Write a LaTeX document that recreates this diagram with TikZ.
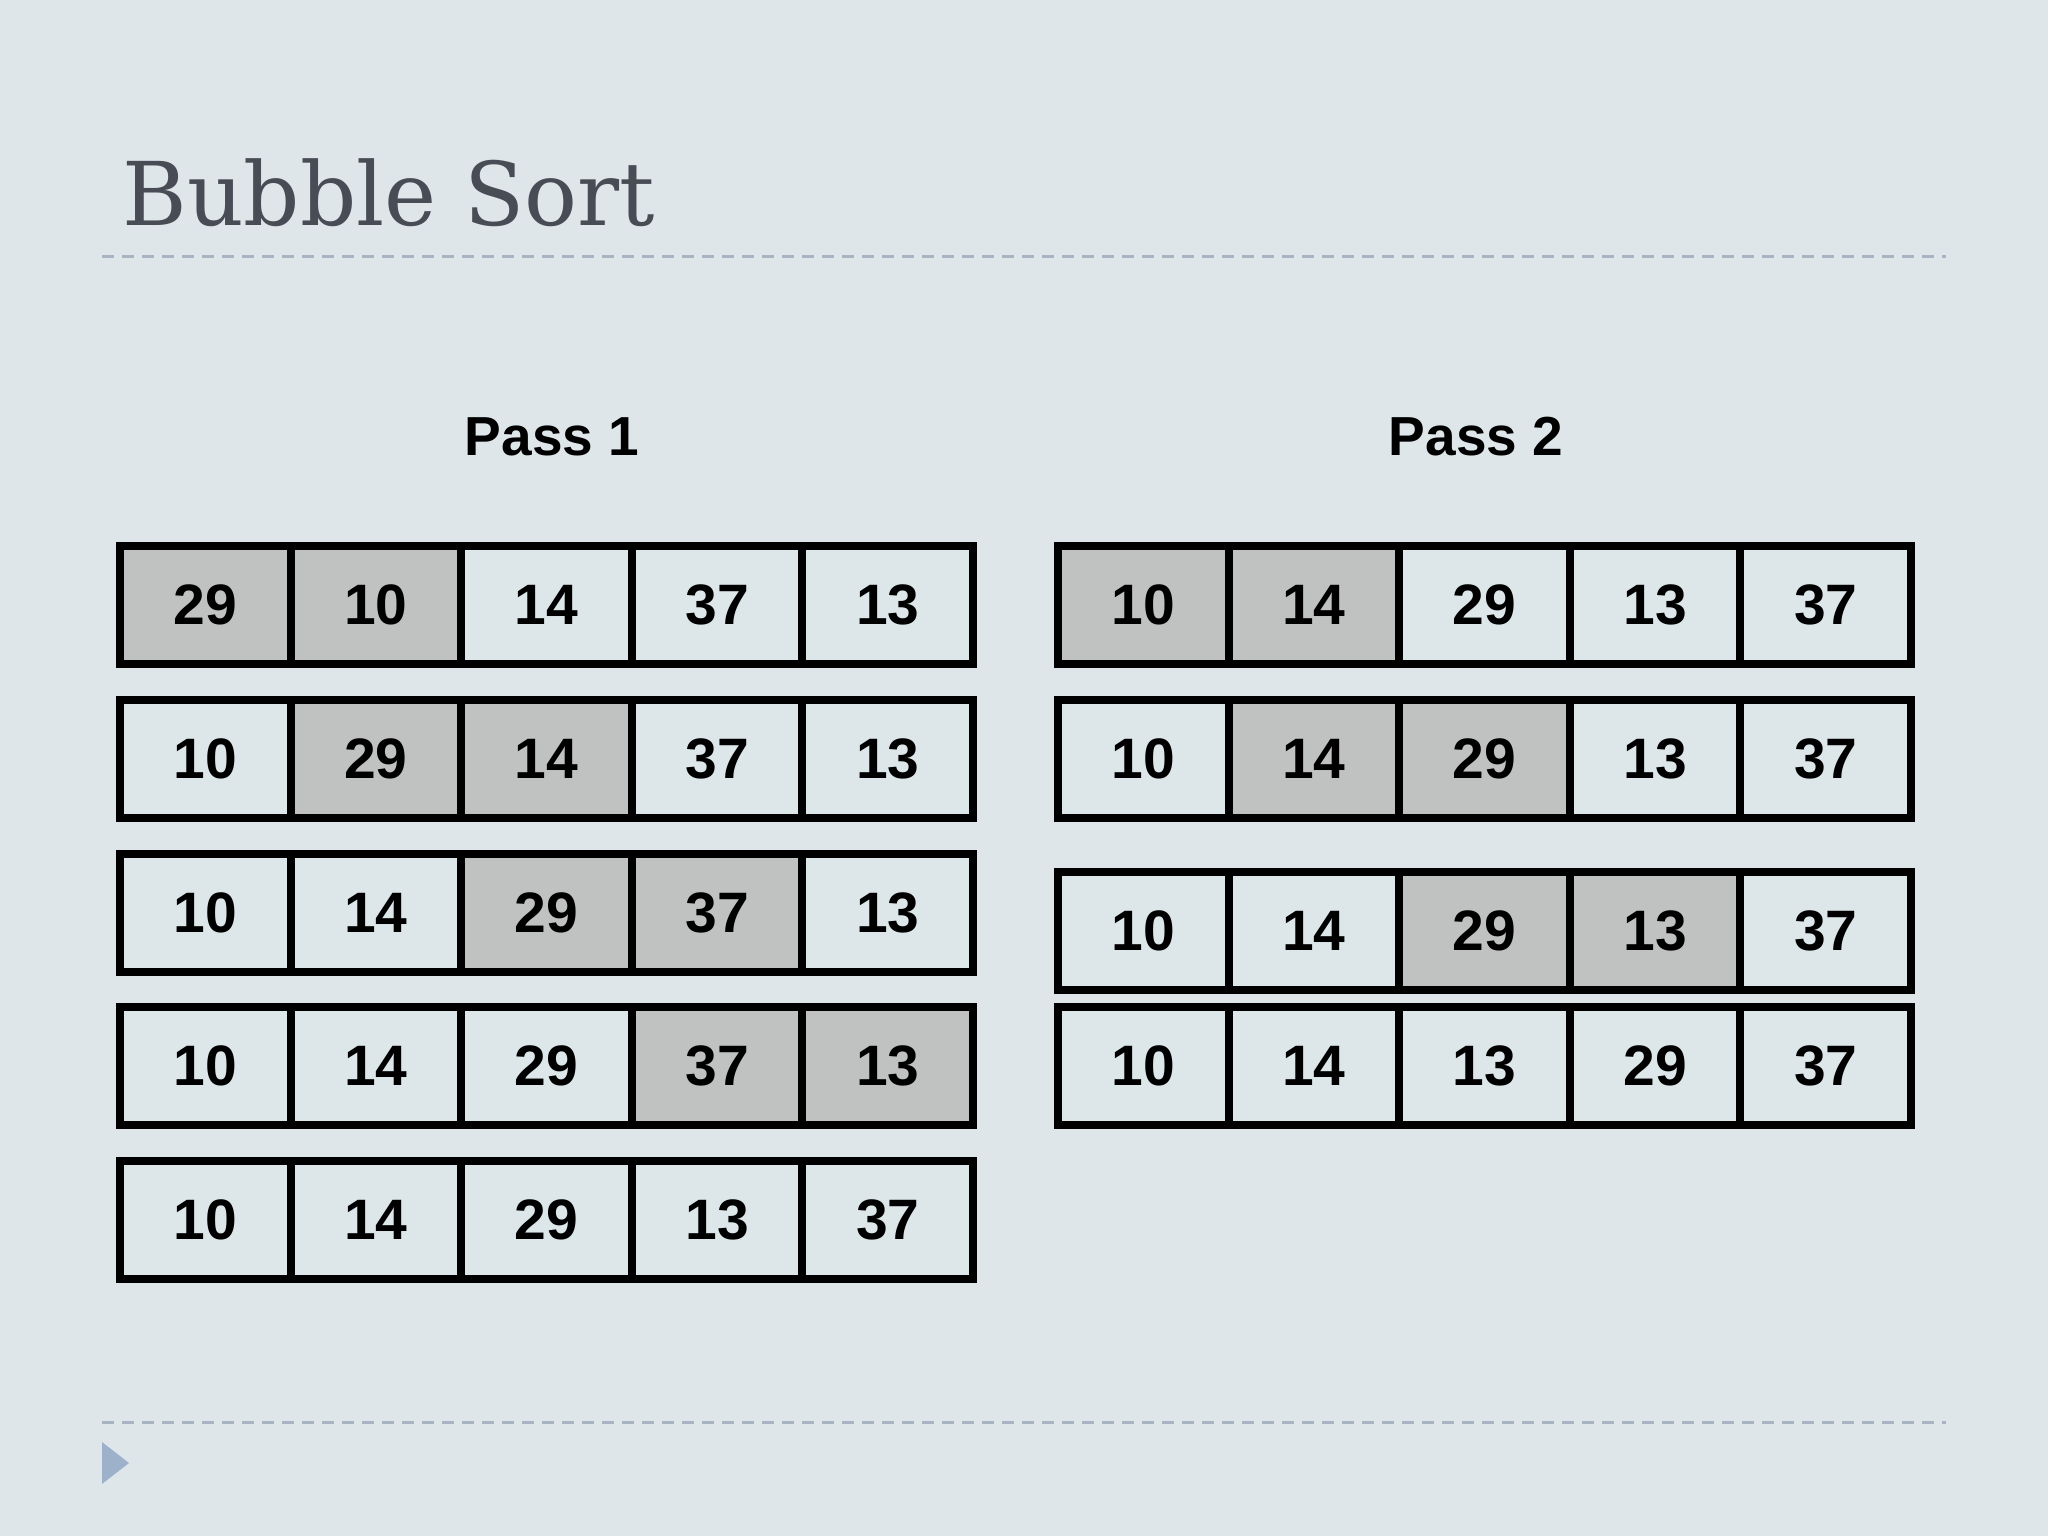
\documentclass[tikz,border=0pt]{standalone}
\usepackage{fontspec}
\newfontfamily\cellfont{Liberation Sans}
\newfontfamily\titlefont{DejaVu Serif}
\definecolor{bgc}{HTML}{DFE6EA}
\definecolor{cellc}{HTML}{DDE7E9}
\definecolor{hic}{HTML}{C0C1C1}
\definecolor{titlec}{HTML}{474C55}
\definecolor{rulec}{HTML}{A8B4C1}
\definecolor{tric}{HTML}{9DB1CA}
\tikzset{
  cell/.style={draw=black, line width=4pt, fill=cellc, minimum width=85.3pt, minimum height=59pt,
    inner sep=0pt, font=\cellfont\bfseries\fontsize{28.5}{34}\selectfont},
  hi/.style={fill=hic},
  rule/.style={draw=rulec, line width=1.5pt, dash pattern=on 6pt off 4pt},
  passlabel/.style={font=\cellfont\bfseries\fontsize{27.5}{32}\selectfont, inner sep=0pt, anchor=base}
}
\begin{document}
\begin{tikzpicture}[x=0.5pt,y=-0.5pt]
\fill[bgc] (0,0) rectangle (2048,1536);
\useasboundingbox (0,0) rectangle (2048,1536);
% title
\node[anchor=base west, inner sep=0pt, text=titlec, font=\titlefont\fontsize{44}{52}\selectfont] (title) at (122,225) {Bubble Sort};
\coordinate (r1a) at (102,256); \coordinate (r1b) at (1946,256);
\draw[rule] (r1a) -- (r1b);
\coordinate (r2a) at (102,1422); \coordinate (r2b) at (1946,1422);
\draw[rule] (r2a) -- (r2b);
\fill[tric] (102,1442) -- (129,1463) -- (102,1484) -- cycle;
% pass labels
\node[passlabel] (pass1) at (552,455) {Pass 1};
\node[passlabel] (pass2) at (1476,455) {Pass 2};
% Pass 1 rows: y ; values ; highlight flags
\foreach \r/\y/\vals/\hl in {
  1/605/{29,10,14,37,13}/{1,1,0,0,0},
  2/759/{10,29,14,37,13}/{0,1,1,0,0},
  3/913/{10,14,29,37,13}/{0,0,1,1,0},
  4/1066/{10,14,29,37,13}/{0,0,0,1,1},
  5/1220/{10,14,29,13,37}/{0,0,0,0,0}}{
  \foreach \v [count=\c] in \vals {
    \pgfmathsetmacro{\xx}{205.3+(\c-1)*170.6}
    \pgfmathparse{{\hl}[\c-1]}\let\h\pgfmathresult
    \ifnum\h=1
      \node[cell,hi] (p1r\r c\c) at (\xx,\y) {\v};
    \else
      \node[cell] (p1r\r c\c) at (\xx,\y) {\v};
    \fi
  }
}
% Pass 2 rows
\foreach \r/\y/\vals/\hl in {
  1/605/{10,14,29,13,37}/{1,1,0,0,0},
  2/759/{10,14,29,13,37}/{0,1,1,0,0},
  3/930.5/{10,14,29,13,37}/{0,0,1,1,0},
  4/1066/{10,14,13,29,37}/{0,0,0,0,0}}{
  \foreach \v [count=\c] in \vals {
    \pgfmathsetmacro{\xx}{1143.3+(\c-1)*170.6}
    \pgfmathparse{{\hl}[\c-1]}\let\h\pgfmathresult
    \ifnum\h=1
      \node[cell,hi] (p2r\r c\c) at (\xx,\y) {\v};
    \else
      \node[cell] (p2r\r c\c) at (\xx,\y) {\v};
    \fi
  }
}
\end{tikzpicture}
\end{document}
